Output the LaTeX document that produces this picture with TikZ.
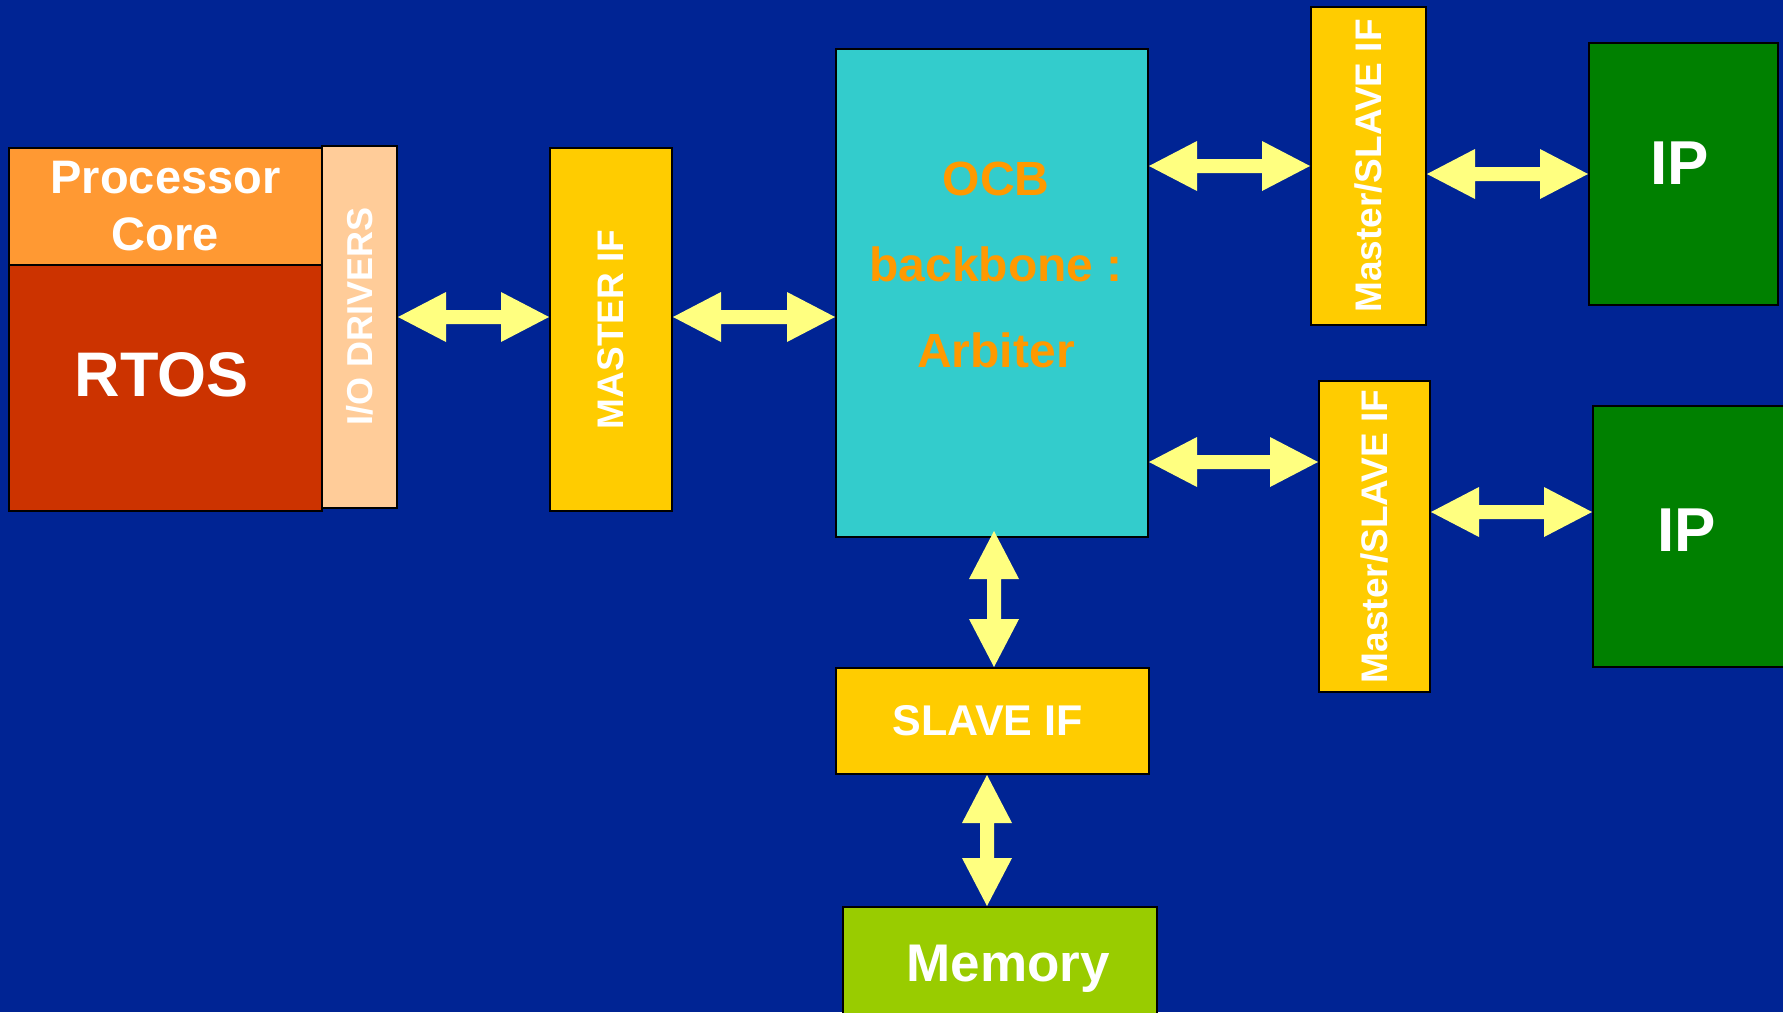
\documentclass[tikz,border=0pt]{standalone}
\usepackage{fontspec}
\setmainfont{Liberation Sans}
\usepackage{tikz}
\usetikzlibrary{calc,positioning}
\definecolor{mybg}{RGB}{0,36,148}
\definecolor{myorange}{RGB}{255,153,51}
\definecolor{myred}{RGB}{204,51,0}
\definecolor{mypeach}{RGB}{255,204,153}
\definecolor{myyellow}{RGB}{255,204,0}
\definecolor{mycyan}{RGB}{51,204,204}
\definecolor{mytext}{RGB}{255,153,0}
\definecolor{mygreen}{RGB}{0,128,0}
\definecolor{mylime}{RGB}{153,204,0}
\definecolor{myarrow}{RGB}{255,255,128}

\tikzset{
  blk/.style={draw=black, line width=2pt, inner sep=0pt, text=white},
  lbl/.style={text=white, inner sep=0pt},
  bus/.style={fill=myarrow},
}

% fat double arrows, left-right and top-bottom
\newcommand{\harrow}[2]{%
  \path (#1) coordinate (hA) (#2) coordinate (hB);
  \fill[bus] (hA) -- ($(hA)+(48,25)$) -- ($(hA)+(48,7)$) -- ($(hB)+(-48,7)$)
    -- ($(hB)+(-48,25)$) -- (hB) -- ($(hB)+(-48,-25)$) -- ($(hB)+(-48,-7)$)
    -- ($(hA)+(48,-7)$) -- ($(hA)+(48,-25)$) -- cycle;}
\newcommand{\varrow}[2]{%
  \path (#1) coordinate (vA) (#2) coordinate (vB);
  \fill[bus] (vA) -- ($(vA)+(25,48)$) -- ($(vA)+(7,48)$) -- ($(vB)+(7,-48)$)
    -- ($(vB)+(25,-48)$) -- (vB) -- ($(vB)+(-25,-48)$) -- ($(vB)+(-7,-48)$)
    -- ($(vA)+(-7,48)$) -- ($(vA)+(-25,48)$) -- cycle;}

\begin{document}
\begin{tikzpicture}[x=1pt,y=-1pt]
  \useasboundingbox (0,0) rectangle (1783,1012);
  \clip (0,0) rectangle (1783,1012);
  \fill[mybg] (0,0) rectangle (1783,1012);

  % processor side
  \node[blk, fill=myorange, minimum width=313pt, minimum height=117pt, align=center,
    font=\fontsize{47}{57}\selectfont\bfseries] (core) at (165.5,206.5) {Processor\\Core};
  \node[blk, fill=myred, minimum width=313pt, minimum height=246pt,
    label={[lbl, font=\fontsize{63}{70}\selectfont\bfseries, xshift=-4pt, yshift=13pt]center:RTOS}] (rtos) at (165.5,388) {};
  \node[blk, fill=mypeach, minimum width=75pt, minimum height=362pt,
    label={[lbl, font=\fontsize{36}{40}\selectfont\bfseries, yshift=11pt]center:\rotatebox{90}{I/O DRIVERS}}] (io) at (359.5,327) {};
  \node[blk, fill=myyellow, minimum width=122pt, minimum height=363pt,
    font=\fontsize{37}{40}\selectfont\bfseries] (mif) at (611,329.5) {\rotatebox{90}{MASTER IF}};

  % bus
  \node[blk, fill=mycyan, minimum width=312pt, minimum height=488pt,
    label={[lbl, text=mytext, align=center, font=\fontsize{48}{86}\selectfont\bfseries, xshift=4pt, yshift=28pt]center:{OCB\\backbone :\\Arbiter}}] (ocb) at (992,293) {};
  \node[blk, fill=myyellow, minimum width=313pt, minimum height=106pt,
    label={[lbl, font=\fontsize{43}{48}\selectfont\bfseries, xshift=-5pt]center:SLAVE IF}] (sif) at (992.5,721) {};
  \node[blk, fill=mylime, minimum width=314pt, minimum height=110pt,
    label={[lbl, font=\fontsize{53}{58}\selectfont\bfseries, xshift=8pt, yshift=-7pt]center:Memory}] (mem) at (1000,962) {};

  % IP side
  \node[blk, fill=myyellow, minimum width=115pt, minimum height=318pt,
    font=\fontsize{37}{40}\selectfont\bfseries] (ms1) at (1368.5,166) {\rotatebox{90}{Master/SLAVE IF}};
  \node[blk, fill=myyellow, minimum width=111pt, minimum height=311pt,
    font=\fontsize{37}{40}\selectfont\bfseries] (ms2) at (1374.5,536.5) {\rotatebox{90}{Master/SLAVE IF}};
  \node[blk, fill=mygreen, minimum width=189pt, minimum height=262pt,
    label={[lbl, font=\fontsize{62}{66}\selectfont\bfseries, xshift=-4pt, yshift=11pt]center:IP}] (ip1) at (1683.5,174) {};
  \node[blk, fill=mygreen, minimum width=207pt, minimum height=261pt,
    label={[lbl, font=\fontsize{62}{66}\selectfont\bfseries, xshift=-10pt, yshift=6pt]center:IP}] (ip2) at (1696.5,536.5) {};

  \coordinate (lvl) at (0,317);
  \coordinate (lvlb) at (0,462);
  \coordinate (lvlc) at (0,512);
  \coordinate (busx) at (994,531);
  \coordinate (memx) at (987,0);

  \harrow{io.east |- lvl}{mif.west |- lvl}
  \harrow{mif.east |- lvl}{ocb.west |- lvl}
  \harrow{ocb.east |- ms1.west}{ms1.west}
  \harrow{ms1.east |- ip1.west}{ip1.west}
  \harrow{ocb.east |- lvlb}{ms2.west |- lvlb}
  \harrow{ms2.east |- lvlc}{ip2.west |- lvlc}
  \varrow{busx}{sif.north -| busx}
  \varrow{sif.south -| memx}{mem.north -| memx}
\end{tikzpicture}
\end{document}
